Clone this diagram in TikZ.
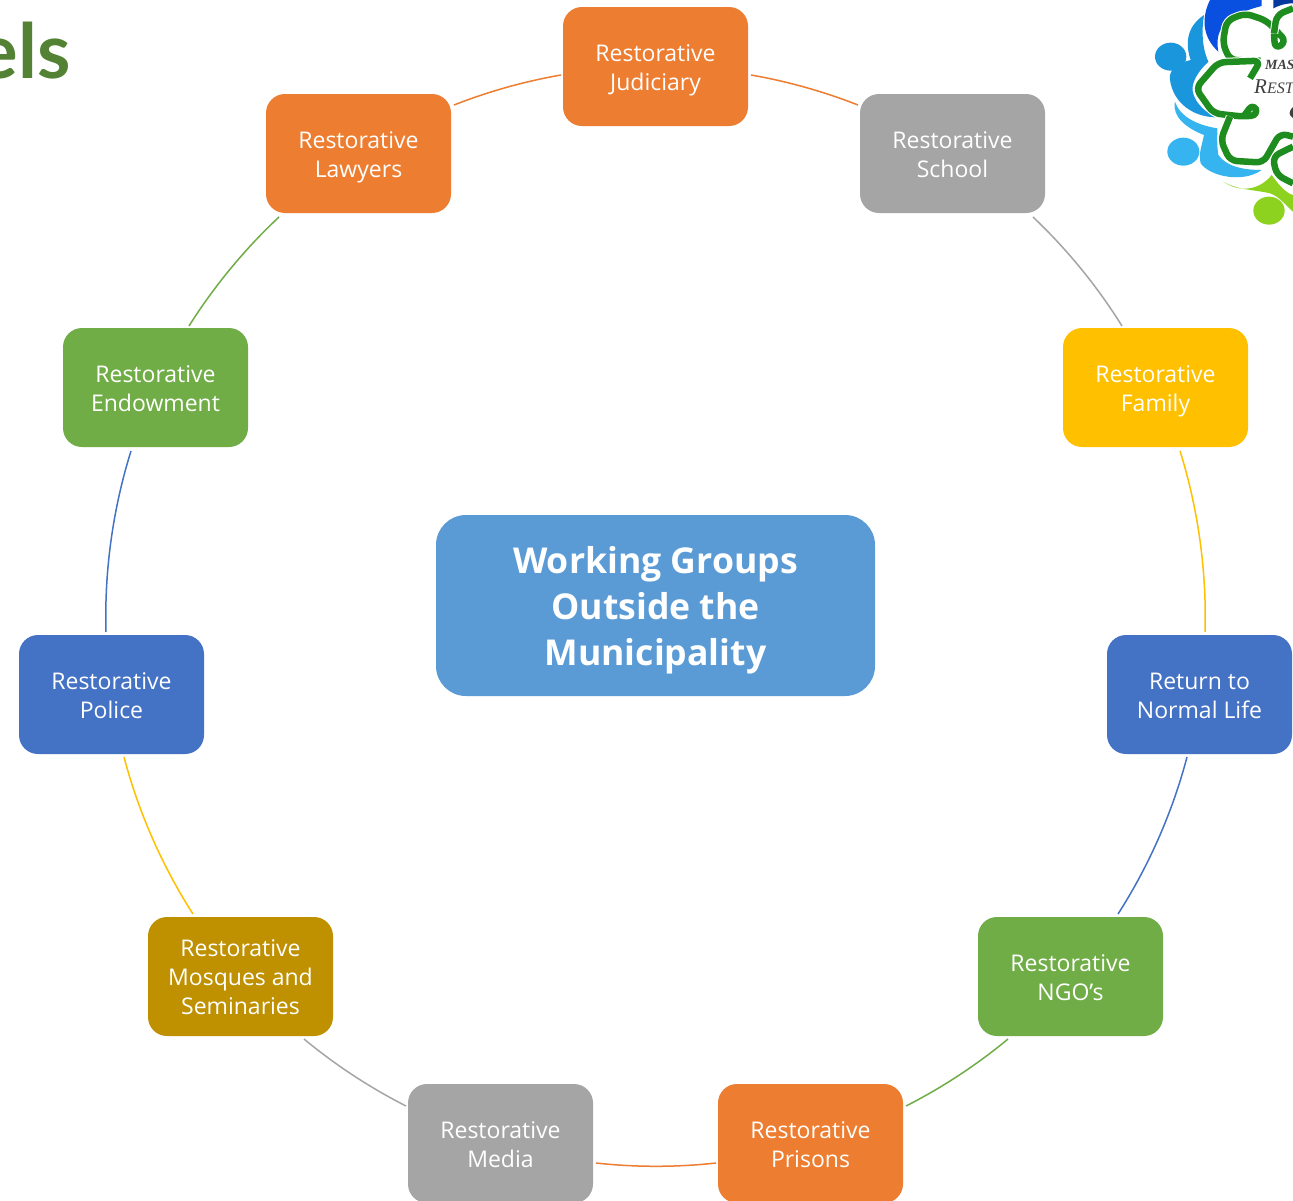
\documentclass[tikz,border=0pt]{standalone}
\usepackage{fontspec}
\setmainfont{Open Sans}
\newfontfamily\titlefont{Lato}
\newfontfamily\logofont{Liberation Serif}
\definecolor{cOrange}{HTML}{ED7D31}
\definecolor{cGray}{HTML}{A5A5A5}
\definecolor{cYellow}{HTML}{FFC000}
\definecolor{cBlue}{HTML}{4472C4}
\definecolor{cGreen}{HTML}{70AD47}
\definecolor{cGold}{HTML}{BF9000}
\definecolor{cCentre}{HTML}{5B9BD5}
\definecolor{cTitle}{HTML}{548235}
\definecolor{lgDark}{HTML}{0A50E0}
\definecolor{lgMid}{HTML}{1A96DC}
\definecolor{lgLight}{HTML}{35B4F0}
\definecolor{lgLime}{HTML}{8CD21E}
\definecolor{lgGreen}{HTML}{1E8C1E}
\newcommand{\smallst}{\rule[-7.5pt]{0pt}{21.5pt}}
\newcommand{\smallfirst}{\rule[-7.5pt]{0pt}{33pt}}
\newcommand{\bigst}{\rule[-12.5pt]{0pt}{33.5pt}}
\newcommand{\bigfirst}{\rule[-12.5pt]{0pt}{52pt}}
\tikzset{
  stepbox/.style={rectangle,rounded corners=19pt,minimum width=185pt,minimum height=119pt,
    inner sep=0pt,align=center,text=white,font=\fontsize{23}{29}\selectfont},
  hubbox/.style={rectangle,rounded corners=30pt,fill=cCentre,minimum width=439pt,minimum height=181pt,
    inner sep=0pt,align=center,text=white,font=\fontsize{35.6}{46}\selectfont\bfseries},
  link/.style={line width=1.5pt,bend left=#1,looseness=0.85},
  lgline/.style={draw=lgGreen,line width=6.5pt,line join=round,rounded corners=7pt,fill=none,
    preaction={draw=white,line width=8.5pt}}
}
\begin{document}
\begin{tikzpicture}[x=1pt,y=-1pt]
\useasboundingbox (0,0) rectangle (1293,1200);
\fill[white] (0,0) rectangle (1293,1200);
% title fragment
\node[anchor=base east,inner sep=0pt,text=cTitle,font=\titlefont\fontsize{76}{76}\selectfont\bfseries] (titlefrag) at (71,78) {els};
% logo
\begin{scope}
\clip (1130,0) rectangle (1293,260);
\begin{scope}[shift={(1130,0)},x=0.3333pt,y=-0.3333pt]
\fill[lgDark] (240,0) .. controls (215,50) and (215,110) .. (265,155) .. controls (255,100) and (270,50) .. (395,18) -- (395,0) -- cycle;
\fill[lgDark!70!black] (430,0) -- (489,0) -- (489,10) .. controls (460,10) and (440,20) .. (430,25) -- cycle;
\fill[lgMid] (222,45) .. controls (170,80) and (165,130) .. (182,180) .. controls (140,190) and (115,210) .. (120,240) .. controls (130,310) and (190,350) .. (255,352) .. controls (200,320) and (180,280) .. (190,250) .. controls (200,220) and (220,200) .. (235,185) .. controls (215,140) and (215,90) .. cycle;
\fill[lgLight] (135,305) .. controls (125,350) and (170,385) .. (222,405) .. controls (215,440) and (205,460) .. (212,490) .. controls (240,530) and (340,550) .. (395,510) .. controls (340,510) and (290,500) .. (265,465) .. controls (260,430) and (262,410) .. (262,385) .. controls (200,375) and (150,350) .. cycle;
\fill[lgLime] (280,545) .. controls (330,580) and (390,570) .. (425,525) .. controls (450,560) and (470,580) .. (489,585) -- (489,635) .. controls (470,620) and (450,590) .. (420,580) .. controls (380,570) and (320,570) .. cycle;
\fill[lgMid] (122,170) ellipse [x radius=47,y radius=42];
\fill[lgLight] (160,455) ellipse [x radius=48,y radius=42];
\fill[lgLime] (417,632) ellipse [x radius=47,y radius=42];
\draw[lgline] (392,182) -- (300,180) -- (278,130) -- (290,62) -- (345,40) -- (410,62) -- (470,125) -- (435,148) -- (432,100);
\draw[lgline] (360,235) -- (392,182) -- (265,187) -- (197,265) -- (250,340) -- (340,350) -- (385,345) -- (370,310) -- (340,350);
\draw[lgline] (300,350) -- (272,420) -- (300,482) -- (400,488) -- (450,400) -- (489,410);
\draw[lgline] (489,25) -- (440,45) -- (432,100);
\draw[lgline] (489,550) -- (440,525) -- (428,470) -- (489,440);
\fill[black!75] (490,320) .. controls (475,335) and (475,345) .. (490,355) -- cycle;
\node[anchor=base west,inner sep=0pt,text=black!75,font=\logofont\itshape\bfseries\fontsize{14}{14}\selectfont] (logoa) at (405,210) {MAS};
\node[anchor=base west,inner sep=0pt,text=black!75,font=\logofont\itshape\fontsize{21}{22}\selectfont] (logob) at (372,282) {R{\fontsize{16}{16}\selectfont EST}};
\end{scope}
\end{scope}
% nodes
\node[hubbox] (hub) at (655.5,605.5) {\bigfirst Working Groups\\\bigst Outside the\\\bigst Municipality};
\node[stepbox,fill=cOrange] (judi) at (655.5,66.5) {\smallfirst Restorative\\\smallst Judiciary};
\node[stepbox,fill=cGray] (school) at (952.5,153.5) {\smallfirst Restorative\\\smallst School};
\node[stepbox,fill=cYellow] (family) at (1155.5,387.5) {\smallfirst Restorative\\\smallst Family};
\node[stepbox,fill=cBlue] (normal) at (1199.5,694.5) {\smallfirst Return to\\\smallst Normal Life};
\node[stepbox,fill=cGreen] (ngo) at (1070.5,976.5) {\smallfirst Restorative\\\smallst NGO’s};
\node[stepbox,fill=cOrange] (prisons) at (810.5,1143.5) {\smallfirst Restorative\\\smallst Prisons};
\node[stepbox,fill=cGray] (media) at (500.5,1143.5) {\smallfirst Restorative\\\smallst Media};
\node[stepbox,fill=cGold] (mosques) at (240.5,976.5) {\smallfirst Restorative\\\smallst Mosques and\\\smallst Seminaries};
\node[stepbox,fill=cBlue] (police) at (111.5,694.5) {\smallfirst Restorative\\\smallst Police};
\node[stepbox,fill=cGreen] (endow) at (155.5,387.5) {\smallfirst Restorative\\\smallst Endowment};
\node[stepbox,fill=cOrange] (lawyers) at (358.5,153.5) {\smallfirst Restorative\\\smallst Lawyers};
% connectors
\draw[link=5.8,cOrange] ([shift={(95.5,8.5)}]judi.center) to ([shift={(-94.5,-48.5)}]school.center);
\draw[link=7.35,cGray] ([shift={(80.5,63.5)}]school.center) to ([shift={(-33.5,-61.5)}]family.center);
\draw[link=9.55,cYellow] ([shift={(24.5,63.5)}]family.center) to ([shift={(5.5,-62.5)}]normal.center);
\draw[link=9,cBlue] ([shift={(-12.5,62.5)}]normal.center) to ([shift={(47.5,-62.5)}]ngo.center);
\draw[link=6.35,cGreen] ([shift={(-62.5,62.5)}]ngo.center) to ([shift={(95.5,-37.5)}]prisons.center);
\draw[link=6.3,cOrange] ([shift={(-94.5,19.5)}]prisons.center) to ([shift={(95.5,19.5)}]media.center);
\draw[link=6.35,cGray] ([shift={(-94.5,-37.5)}]media.center) to ([shift={(63.5,62.5)}]mosques.center);
\draw[link=9,cYellow] ([shift={(-47.5,-62.5)}]mosques.center) to ([shift={(12.5,62.5)}]police.center);
\draw[link=9.55,cBlue] ([shift={(-5.5,-62.5)}]police.center) to ([shift={(-24.5,63.5)}]endow.center);
\draw[link=7.35,cGreen] ([shift={(33.5,-61.5)}]endow.center) to ([shift={(-79.5,63.5)}]lawyers.center);
\draw[link=5.8,cOrange] ([shift={(95.5,-48.5)}]lawyers.center) to ([shift={(-94.5,8.5)}]judi.center);
\end{tikzpicture}
\end{document}
